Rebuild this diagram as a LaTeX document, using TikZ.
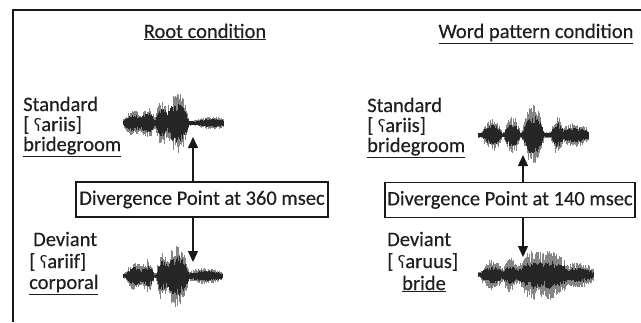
\documentclass[tikz,border=0pt]{standalone}
\usepackage{fontspec}
\setmainfont[FakeBold=0.4]{Carlito}
\newfontfamily\ipafont{Noto Sans}
\usetikzlibrary{arrows.meta}
\newcommand\phar{{\ipafont\fontsize{17}{18}\selectfont\char"0295}}
% one sound-wave trace: #1 x start, #2 x end, #3 centre line, #4 envelope in \t,
% #5 share of the envelope taken by the dark core
\newcommand\sndtrace[5]{%
  \pgfmathtruncatemacro\nsteps{(#2-#1)/0.5}%
  \foreach \k in {0,...,\nsteps}{%
    \pgfmathsetmacro\t{#1+0.5*\k}%
    \pgfmathsetmacro\e{#4}%
    \pgfmathsetmacro\up{\e*(0.45+0.65*rnd)}%
    \pgfmathsetmacro\dn{\e*(0.45+0.65*rnd)}%
    \draw[wavelight] (\t,#3-\up) -- (\t,#3+\dn);
  }%
  \foreach \k in {0,...,\nsteps}{%
    \pgfmathsetmacro\t{#1+0.5*\k}%
    \pgfmathsetmacro\e{#4}%
    \pgfmathsetmacro\up{#5*\e*(0.5+0.5*rnd)}%
    \pgfmathsetmacro\dn{#5*\e*(0.5+0.5*rnd)}%
    \draw[wavedark] (\t,#3-\up) -- (\t,#3+\dn);
  }%
}
\begin{document}
\begin{tikzpicture}[x=1pt,y=-1pt,
  declare function={bp(\x,\c,\w)=max(0,1-((\x-\c)/\w)^2);},
  wavelight/.style={draw=black!48,line width=0.7pt},
  wavedark/.style={draw=black!85,line width=0.8pt},
  txt/.style={inner sep=0pt,font=\fontsize{20.5}{23}\selectfont,text=black!88},
  lbl/.style={txt,anchor=base west},
  ttl/.style={txt,anchor=base},
  dpbox/.style={txt,draw=black!90,line width=1.4pt,minimum height=35pt},
  arr/.style={draw=black!90,line width=1.3pt,-{Triangle[width=10pt,length=11pt]}}]
\useasboundingbox (0,0) rectangle (641,322);
\fill[white] (0,0) rectangle (641,322);

% frame
\draw[line width=2pt,black!90] (13,322) -- (13,10) -- (641,10);

% headings
\node[ttl] (hroot) at (205,38) {\underline{Root condition}};
\node[ttl] (hword) at (536,38) {\underline{Word pattern condition}};

% root condition labels
\node[lbl] (s1a) at (23,111) {Standard};
\node[lbl] (s1b) at (23,131) {[ \phar ariis]};
\node[lbl] (s1c) at (23,151) {\underline{bridegroom}};
\node[lbl] (d1a) at (33,246) {Deviant};
\node[lbl] (d1b) at (29,268) {[ \phar ariif]};
\node[lbl] (d1c) at (29,289) {\underline{corporal}};

% word pattern condition labels
\node[lbl] (s2a) at (367,112) {Standard};
\node[lbl] (s2b) at (367,132) {[ \phar ariis]};
\node[lbl] (s2c) at (367,152) {\underline{bridegroom}};
\node[lbl] (d2a) at (387,246) {Deviant};
\node[lbl] (d2b) at (387,268) {[ \phar aruus]};
\node[lbl] (d2c) at (402,290) {\underline{bride}};

% waveforms
\pgfmathsetseed{4711}
\sndtrace{123}{223}{123}{2.5+9*bp(\t,134,11)+12*bp(\t,148,7)+18*bp(\t,161,6)+8*bp(\t,168,6)+25*bp(\t,178,11)+3.5*bp(\t,212,16)}{0.72}
\sndtrace{123}{222}{276}{2.5+11*bp(\t,135,10)+13*bp(\t,148,6)+20*bp(\t,162,6)+8*bp(\t,169,5)+27*bp(\t,178,11)+5*bp(\t,205,20)}{0.7}
\sndtrace{478}{588}{135}{3+12*bp(\t,492,10)+15*bp(\t,512,8)+26*bp(\t,533,11)+15*bp(\t,557,6)+8*bp(\t,575,16)}{0.7}
\sndtrace{478}{593}{275}{3+11*bp(\t,492,12)+13*bp(\t,510,8)+20*bp(\t,535,20)+17*bp(\t,556,12)+9*bp(\t,578,18)}{0.6}

% divergence boxes and arrows
\node[dpbox,minimum width=252pt] (box1) at (202,199.5) {Divergence Point at 360 msec};
\node[dpbox,minimum width=250pt] (box2) at (510,200) {Divergence Point at 140 msec};
\coordinate (up1) at (193,137);
\coordinate (dn1) at (193,262);
\coordinate (up2) at (523,155);
\coordinate (dn2) at (523,257);
\draw[arr] (box1.north -| up1) -- (up1);
\draw[arr] (box1.south -| dn1) -- (dn1);
\draw[arr] (box2.north -| up2) -- (up2);
\draw[arr] (box2.south -| dn2) -- (dn2);
\end{tikzpicture}
\end{document}
